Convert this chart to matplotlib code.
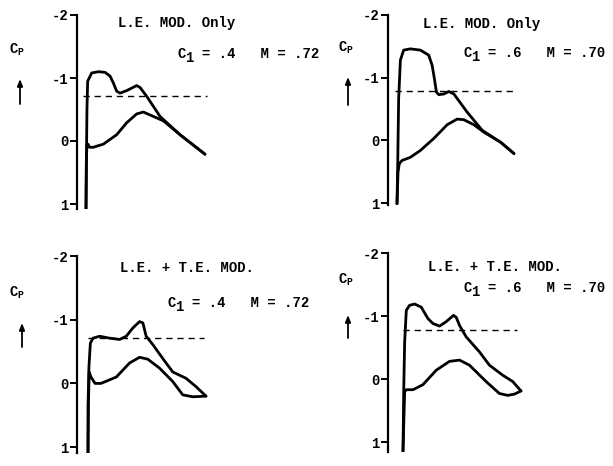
import matplotlib
matplotlib.use("Agg")
import matplotlib.pyplot as plt
from matplotlib.patches import FancyArrowPatch

plt.rcParams['font.family'] = ['Liberation Mono', 'DejaVu Sans Mono']
plt.rcParams['font.weight'] = 'bold'
plt.rcParams['axes.unicode_minus'] = False

W, H = 613, 466

# pressure distributions, x/c and Cp
p1_upper_x = [0.0, 0.003, 0.008, 0.014, 0.048, 0.104, 0.16, 0.202, 0.23, 0.258, 0.286, 0.342, 0.426, 0.454, 0.51, 0.622, 0.79, 1.0]
p1_upper_cp = [1.08, 0.4, -0.5, -0.95, -1.08, -1.1, -1.09, -1.03, -0.92, -0.79, -0.76, -0.8, -0.88, -0.85, -0.71, -0.39, -0.1, 0.21]
p1_lower_x = [0.0, 0.003, 0.008, 0.017, 0.03, 0.06, 0.146, 0.258, 0.342, 0.426, 0.482, 0.566, 0.65, 0.79, 1.0]
p1_lower_cp = [1.08, 0.3, 0.06, 0.05, 0.1, 0.1, 0.05, -0.1, -0.29, -0.43, -0.46, -0.39, -0.32, -0.1, 0.21]

p2_upper_x = [0.0, 0.006, 0.014, 0.029, 0.057, 0.114, 0.2, 0.271, 0.3, 0.32, 0.337, 0.357, 0.4, 0.443, 0.486, 0.6, 0.729, 0.886, 1.0]
p2_upper_cp = [1.01, 0.4, -0.66, -1.28, -1.44, -1.46, -1.44, -1.36, -1.2, -0.98, -0.77, -0.73, -0.74, -0.78, -0.74, -0.45, -0.16, 0.03, 0.21]
p2_lower_x = [0.0, 0.009, 0.02, 0.043, 0.114, 0.2, 0.314, 0.429, 0.514, 0.571, 0.657, 0.743, 0.886, 1.0]
p2_lower_cp = [1.01, 0.5, 0.37, 0.32, 0.27, 0.16, -0.03, -0.25, -0.34, -0.33, -0.25, -0.13, 0.03, 0.21]

p3_upper_x = [0.0, 0.0, 0.008, 0.02, 0.042, 0.099, 0.183, 0.268, 0.324, 0.38, 0.437, 0.465, 0.493, 0.549, 0.634, 0.718, 0.831, 0.915, 1.0]
p3_upper_cp = [1.1, 0.37, -0.26, -0.63, -0.71, -0.74, -0.71, -0.69, -0.74, -0.87, -0.97, -0.95, -0.74, -0.61, -0.39, -0.18, -0.08, 0.05, 0.2]
p3_lower_x = [0.0, 0.004, 0.01, 0.025, 0.06, 0.11, 0.24, 0.352, 0.437, 0.507, 0.606, 0.718, 0.803, 0.887, 1.0]
p3_lower_cp = [1.1, 0.3, -0.18, -0.1, 0.0, 0.0, -0.1, -0.32, -0.41, -0.38, -0.24, -0.03, 0.18, 0.21, 0.2]

p4_upper_x = [0.0, 0.006, 0.014, 0.028, 0.056, 0.099, 0.155, 0.211, 0.254, 0.31, 0.366, 0.428, 0.451, 0.479, 0.535, 0.648, 0.732, 0.845, 0.93, 1.0]
p4_upper_cp = [1.15, 0.2, -0.59, -1.09, -1.17, -1.19, -1.14, -0.96, -0.88, -0.84, -0.91, -1.01, -0.98, -0.85, -0.67, -0.43, -0.22, -0.06, 0.04, 0.19]
p4_lower_x = [0.0, 0.014, 0.028, 0.085, 0.169, 0.282, 0.394, 0.479, 0.563, 0.704, 0.817, 0.887, 0.944, 1.0]
p4_lower_cp = [1.15, 0.2, 0.17, 0.17, 0.09, -0.14, -0.28, -0.3, -0.22, 0.04, 0.23, 0.26, 0.24, 0.19]

# critical pressure coefficient (dashed) and its chordwise extent
cp_star = [-0.72, -0.79, -0.72, -0.78]
star_x0 = [-0.022, -0.014, 0.0, 0.0]
star_x1 = [1.014, 1.0, 0.986, 0.97]

titles = ["L.E. MOD. Only", "L.E. MOD. Only", "L.E. + T.E. MOD.", "L.E. + T.E. MOD."]
cl_vals = [".4", ".6", ".4", ".6"]
mach_vals = [".72", ".70", ".72", ".70"]
tick_vals = [-2, -1, 0, 1]
tick_labels = ["-2", "-1", "0", "1"]

uppers = [(p1_upper_x, p1_upper_cp), (p2_upper_x, p2_upper_cp), (p3_upper_x, p3_upper_cp), (p4_upper_x, p4_upper_cp)]
lowers = [(p1_lower_x, p1_lower_cp), (p2_lower_x, p2_lower_cp), (p3_lower_x, p3_lower_cp), (p4_lower_x, p4_lower_cp)]

# panel layout in pixels: spine x, y of Cp=-2, px per unit Cp, bottom Cp, LE x, chord px
layout = [
    (77, 15, 63.0, 1.08, 86, 119),
    (388, 15, 62.7, 1.03, 397, 117),
    (77, 256, 63.7, 1.10, 88, 118),
    (388, 253, 63.0, 1.16, 403, 118),
]
# text anchors in pixels: title, C1/M line, Cp label, arrow (x, y0, y1)
text_pos = [
    ((118, 23), (177, 54), (17, 50), (20, 104, 79)),
    ((423, 24), (463, 53), (346, 48), (348, 105, 77)),
    ((120, 268), (167, 303), (17, 293), (22, 347, 323)),
    ((428, 267), (463, 288), (346, 280), (348, 338, 315)),
]

FS = 10
PITCH = 0.6 * FS * 100 / 72   # monospace character width in px


def fx(x):
    return x / W


def fy(y):
    return 1 - y / H


fig = plt.figure(figsize=(W / 100, H / 100), dpi=100)

for i in range(4):
    sx, ytop, ppc, cpbot, le, chord = layout[i]
    xr = 1.2
    width = le + xr * chord - sx
    height = (cpbot + 2) * ppc
    ax = fig.add_axes([fx(sx), fy(ytop + height), width / W, height / H])
    ax.set_xlim(-(le - sx) / chord, xr)
    ax.set_ylim(cpbot, -2)

    ux, ucp = uppers[i]
    lx, lcp = lowers[i]
    ax.plot(ux, ucp, color='black', lw=2.0, solid_joinstyle='round', solid_capstyle='round')
    ax.plot(lx, lcp, color='black', lw=2.0, solid_joinstyle='round', solid_capstyle='round')
    ax.plot([star_x0[i], star_x1[i]], [cp_star[i], cp_star[i]], color='black', lw=1.0,
            dashes=(4.5, 3.5))

    for s in ['top', 'right', 'bottom']:
        ax.spines[s].set_visible(False)
    ax.spines['left'].set_linewidth(1.6)
    ax.set_xticks([])
    ax.set_yticks(tick_vals)
    ax.set_yticklabels(tick_labels)
    ax.tick_params(axis='y', direction='out', length=5, width=1.4, pad=1, labelsize=FS)

    (tx, ty), (px, py), (cx, cy), (ax_, ay0, ay1) = text_pos[i]
    fig.text(fx(tx), fy(ty), titles[i], fontsize=FS, fontweight='bold', va='center')
    # typewriter-style "C", lowered "1", then the rest of the line
    fig.text(fx(px), fy(py), "C", fontsize=FS, fontweight='bold', va='center')
    fig.text(fx(px + PITCH), fy(py + 4), "1", fontsize=FS, fontweight='bold', va='center')
    fig.text(fx(px + 3 * PITCH), fy(py), "= " + cl_vals[i] + "   M = " + mach_vals[i],
             fontsize=FS, fontweight='bold', va='center')
    fig.text(fx(cx), fy(cy), r"$\mathregular{C_P}$", fontsize=FS, fontweight='bold',
             va='center', ha='center')
    fig.add_artist(FancyArrowPatch(
        (fx(ax_), fy(ay0)), (fx(ax_), fy(ay1)), transform=fig.transFigure,
        arrowstyle='-|>,head_length=4,head_width=1.6', color='black', lw=1.3,
        shrinkA=0, shrinkB=0))

fig.savefig("out.png", dpi=100)
